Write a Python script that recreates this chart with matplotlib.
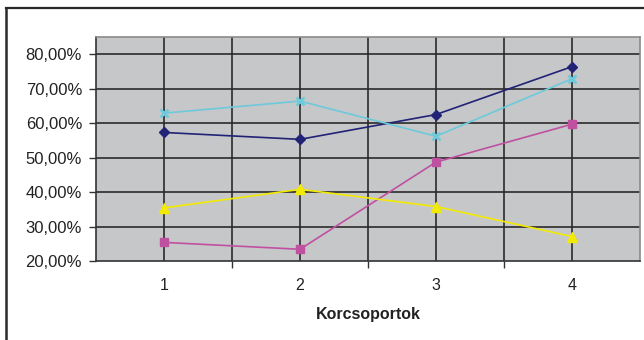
import matplotlib.pyplot as plt
from matplotlib.lines import Line2D
from matplotlib.ticker import FuncFormatter

plt.rcParams['font.family'] = ['Liberation Sans', 'DejaVu Sans']

groups = [1, 2, 3, 4]
navy = [57.3, 55.3, 62.5, 76.4]
magenta = [25.4, 23.4, 48.7, 59.7]
yellow = [35.4, 40.8, 35.8, 27.1]
cyan = [62.9, 66.4, 56.2, 72.9]

fig = plt.figure(figsize=(6.44, 3.40), dpi=100)
# chart frame: only left and top edges fall inside the image
fig.lines.append(Line2D([6 / 644, 6 / 644], [0, 1 - 8 / 340], transform=fig.transFigure,
                        color='#2a2a2a', linewidth=1.8))
fig.lines.append(Line2D([6 / 644, 1], [1 - 8 / 340, 1 - 8 / 340], transform=fig.transFigure,
                        color='#2a2a2a', linewidth=1.6))

ax = fig.add_axes([96 / 644, 1 - 261 / 340, 544 / 644, 224 / 340])
ax.set_facecolor('#c6c7c9')
ax.set_xlim(0.5, 4.5)
ax.set_ylim(20, 85)

# grid: horizontal every 10 %, vertical at categories and between them
for y in range(30, 90, 10):
    ax.axhline(y, color='#2a2a2a', linewidth=1.2, zorder=1)
for x in [1, 1.5, 2, 2.5, 3, 3.5, 4]:
    ax.axvline(x, color='#2a2a2a', linewidth=1.2, zorder=1)

ax.plot(groups, navy, color='#222277', marker='D', markersize=5, linewidth=1.2, zorder=3)
ax.plot(groups, magenta, color='#c050a0', marker='s', markersize=6, linewidth=1.2, zorder=3)
ax.plot(groups, yellow, color='#f2ea00', marker='^', markersize=7, linewidth=1.2, zorder=3)
ax.plot(groups, cyan, color='#6ccadb', marker='x', markersize=6, markeredgewidth=2,
        linewidth=1.2, zorder=3)

ax.set_yticks([20, 30, 40, 50, 60, 70, 80])
ax.yaxis.set_major_formatter(FuncFormatter(lambda v, p: f'{v:.2f}%'.replace('.', ',')))

ax.set_xticks([1.5, 2.5, 3.5])
ax.set_xticklabels([])
ax.set_xticks(groups, minor=True)
ax.set_xticklabels([str(g) for g in groups], minor=True)
ax.tick_params(axis='x', which='minor', length=0, pad=12, labelsize=11.5, labelcolor='#222222')
ax.tick_params(axis='x', which='major', length=5, width=1, color='#333333')
ax.tick_params(axis='y', length=5, width=1, color='#333333', labelsize=12, pad=5,
               labelcolor='#222222')

for side in ['top', 'right']:
    ax.spines[side].set_color('#8a8a8a')
    ax.spines[side].set_linewidth(1.2)
for side in ['left', 'bottom']:
    ax.spines[side].set_color('#333333')
    ax.spines[side].set_linewidth(1.2)

ax.set_xlabel('Korcsoportok', fontsize=11.5, fontweight='bold', labelpad=10, color='#222222')

fig.savefig('out.png', dpi=100)
